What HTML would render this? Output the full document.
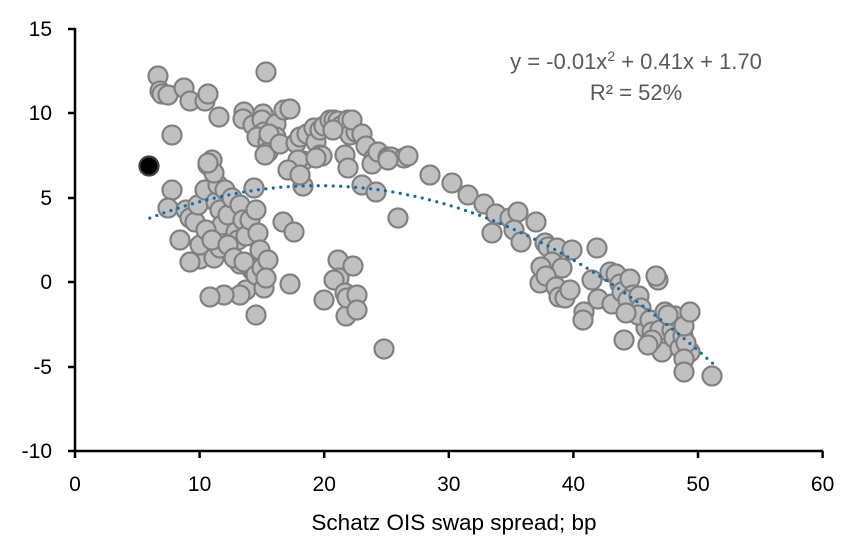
<!DOCTYPE html>
<html><head><meta charset="utf-8"><style>body{margin:0;background:#fff}svg{display:block}text{font-family:"Liberation Sans",sans-serif}</style></head>
<body>
<svg width="852" height="539" viewBox="0 0 852 539" xmlns="http://www.w3.org/2000/svg">
<g fill="#c0c0c0" stroke="#808080" stroke-width="2.2">
<circle cx="158" cy="76" r="9.5"/><circle cx="160" cy="91" r="9.5"/><circle cx="162" cy="94" r="9.5"/><circle cx="168" cy="95" r="9.5"/><circle cx="184" cy="88" r="9.5"/><circle cx="190" cy="101" r="9.5"/><circle cx="205" cy="101" r="9.5"/><circle cx="208" cy="94" r="9.5"/><circle cx="219" cy="117" r="9.5"/><circle cx="172" cy="135" r="9.5"/><circle cx="244" cy="112" r="9.5"/><circle cx="243" cy="119" r="9.5"/><circle cx="253" cy="125" r="9.5"/><circle cx="266" cy="72" r="9.5"/><circle cx="263" cy="114" r="9.5"/><circle cx="262" cy="120" r="9.5"/><circle cx="264" cy="132" r="9.5"/><circle cx="257" cy="137" r="9.5"/><circle cx="268" cy="142" r="9.5"/><circle cx="268" cy="152" r="9.5"/><circle cx="265" cy="155" r="9.5"/><circle cx="276" cy="124" r="9.5"/><circle cx="276" cy="137" r="9.5"/><circle cx="269" cy="134" r="9.5"/><circle cx="284" cy="110" r="9.5"/><circle cx="290" cy="109" r="9.5"/><circle cx="280" cy="144" r="9.5"/><circle cx="296" cy="167" r="9.5"/><circle cx="296" cy="143" r="9.5"/><circle cx="300" cy="137" r="9.5"/><circle cx="303" cy="161" r="9.5"/><circle cx="298" cy="160" r="9.5"/><circle cx="307" cy="134" r="9.5"/><circle cx="314" cy="128" r="9.5"/><circle cx="316" cy="142" r="9.5"/><circle cx="320" cy="130" r="9.5"/><circle cx="324" cy="126" r="9.5"/><circle cx="330" cy="120" r="9.5"/><circle cx="334" cy="120" r="9.5"/><circle cx="338" cy="121" r="9.5"/><circle cx="341" cy="126" r="9.5"/><circle cx="348" cy="120" r="9.5"/><circle cx="350" cy="135" r="9.5"/><circle cx="356" cy="132" r="9.5"/><circle cx="320" cy="155" r="9.5"/><circle cx="322" cy="156" r="9.5"/><circle cx="333" cy="130" r="9.5"/><circle cx="345" cy="155" r="9.5"/><circle cx="352" cy="120" r="9.5"/><circle cx="362" cy="134" r="9.5"/><circle cx="366" cy="146" r="9.5"/><circle cx="374" cy="158" r="9.5"/><circle cx="372" cy="164" r="9.5"/><circle cx="378" cy="152" r="9.5"/><circle cx="388" cy="157" r="9.5"/><circle cx="391" cy="157" r="9.5"/><circle cx="404" cy="158" r="9.5"/><circle cx="408" cy="156" r="9.5"/><circle cx="430" cy="175" r="9.5"/><circle cx="452" cy="183" r="9.5"/><circle cx="468" cy="195" r="9.5"/><circle cx="484" cy="204" r="9.5"/><circle cx="496" cy="214" r="9.5"/><circle cx="510" cy="218" r="9.5"/><circle cx="518" cy="212" r="9.5"/><circle cx="492" cy="233" r="9.5"/><circle cx="514" cy="230" r="9.5"/><circle cx="521" cy="242" r="9.5"/><circle cx="536" cy="222" r="9.5"/><circle cx="545" cy="243" r="9.5"/><circle cx="548" cy="247" r="9.5"/><circle cx="557" cy="248" r="9.5"/><circle cx="572" cy="250" r="9.5"/><circle cx="552" cy="262" r="9.5"/><circle cx="562" cy="268" r="9.5"/><circle cx="541" cy="267" r="9.5"/><circle cx="540" cy="283" r="9.5"/><circle cx="546" cy="276" r="9.5"/><circle cx="556" cy="287" r="9.5"/><circle cx="559" cy="297" r="9.5"/><circle cx="565" cy="298" r="9.5"/><circle cx="570" cy="290" r="9.5"/><circle cx="584" cy="312" r="9.5"/><circle cx="583" cy="320" r="9.5"/><circle cx="597" cy="248" r="9.5"/><circle cx="592" cy="280" r="9.5"/><circle cx="610" cy="272" r="9.5"/><circle cx="616" cy="274" r="9.5"/><circle cx="598" cy="299" r="9.5"/><circle cx="612" cy="304" r="9.5"/><circle cx="620" cy="284" r="9.5"/><circle cx="622" cy="292" r="9.5"/><circle cx="630" cy="279" r="9.5"/><circle cx="633" cy="295" r="9.5"/><circle cx="628" cy="300" r="9.5"/><circle cx="639" cy="296" r="9.5"/><circle cx="641" cy="308" r="9.5"/><circle cx="644" cy="318" r="9.5"/><circle cx="646" cy="328" r="9.5"/><circle cx="624" cy="340" r="9.5"/><circle cx="638" cy="315" r="9.5"/><circle cx="650" cy="320" r="9.5"/><circle cx="652" cy="332" r="9.5"/><circle cx="656" cy="340" r="9.5"/><circle cx="660" cy="330" r="9.5"/><circle cx="662" cy="352" r="9.5"/><circle cx="658" cy="280" r="9.5"/><circle cx="656" cy="276" r="9.5"/><circle cx="665" cy="312" r="9.5"/><circle cx="672" cy="330" r="9.5"/><circle cx="674" cy="338" r="9.5"/><circle cx="675" cy="316" r="9.5"/><circle cx="680" cy="348" r="9.5"/><circle cx="683" cy="336" r="9.5"/><circle cx="690" cy="352" r="9.5"/><circle cx="686" cy="343" r="9.5"/><circle cx="684" cy="359" r="9.5"/><circle cx="684" cy="372" r="9.5"/><circle cx="712" cy="376" r="9.5"/><circle cx="684" cy="326" r="9.5"/><circle cx="690" cy="312" r="9.5"/><circle cx="668" cy="315" r="9.5"/><circle cx="652" cy="340" r="9.5"/><circle cx="648" cy="345" r="9.5"/><circle cx="626" cy="313" r="9.5"/>
<circle cx="172" cy="190" r="9.5"/><circle cx="168" cy="208" r="9.5"/><circle cx="180" cy="240" r="9.5"/><circle cx="186" cy="210" r="9.5"/><circle cx="190" cy="218" r="9.5"/><circle cx="195" cy="222" r="9.5"/><circle cx="198" cy="205" r="9.5"/><circle cx="205" cy="190" r="9.5"/><circle cx="208" cy="165" r="9.5"/><circle cx="212" cy="160" r="9.5"/><circle cx="216" cy="202" r="9.5"/><circle cx="218" cy="185" r="9.5"/><circle cx="220" cy="210" r="9.5"/><circle cx="222" cy="225" r="9.5"/><circle cx="225" cy="190" r="9.5"/><circle cx="228" cy="215" r="9.5"/><circle cx="232" cy="198" r="9.5"/><circle cx="236" cy="232" r="9.5"/><circle cx="238" cy="240" r="9.5"/><circle cx="240" cy="205" r="9.5"/><circle cx="243" cy="220" r="9.5"/><circle cx="246" cy="236" r="9.5"/><circle cx="250" cy="220" r="9.5"/><circle cx="254" cy="188" r="9.5"/><circle cx="256" cy="210" r="9.5"/><circle cx="258" cy="233" r="9.5"/><circle cx="260" cy="250" r="9.5"/><circle cx="252" cy="270" r="9.5"/><circle cx="248" cy="265" r="9.5"/><circle cx="240" cy="264" r="9.5"/><circle cx="246" cy="290" r="9.5"/><circle cx="240" cy="295" r="9.5"/><circle cx="224" cy="295" r="9.5"/><circle cx="210" cy="297" r="9.5"/><circle cx="200" cy="259" r="9.5"/><circle cx="190" cy="262" r="9.5"/><circle cx="200" cy="245" r="9.5"/><circle cx="214" cy="258" r="9.5"/><circle cx="220" cy="248" r="9.5"/><circle cx="206" cy="230" r="9.5"/><circle cx="212" cy="240" r="9.5"/><circle cx="228" cy="245" r="9.5"/><circle cx="234" cy="258" r="9.5"/><circle cx="244" cy="262" r="9.5"/><circle cx="256" cy="275" r="9.5"/><circle cx="262" cy="268" r="9.5"/><circle cx="264" cy="288" r="9.5"/><circle cx="256" cy="315" r="9.5"/><circle cx="268" cy="260" r="9.5"/><circle cx="266" cy="278" r="9.5"/><circle cx="283" cy="222" r="9.5"/><circle cx="290" cy="284" r="9.5"/><circle cx="303" cy="186" r="9.5"/><circle cx="288" cy="170" r="9.5"/><circle cx="300" cy="175" r="9.5"/><circle cx="324" cy="300" r="9.5"/><circle cx="338" cy="260" r="9.5"/><circle cx="339" cy="278" r="9.5"/><circle cx="334" cy="280" r="9.5"/><circle cx="345" cy="293" r="9.5"/><circle cx="346" cy="316" r="9.5"/><circle cx="353" cy="266" r="9.5"/><circle cx="354" cy="296" r="9.5"/><circle cx="347" cy="298" r="9.5"/><circle cx="357" cy="295" r="9.5"/><circle cx="357" cy="310" r="9.5"/><circle cx="384" cy="349" r="9.5"/><circle cx="316" cy="158" r="9.5"/><circle cx="294" cy="232" r="9.5"/><circle cx="348" cy="168" r="9.5"/><circle cx="362" cy="185" r="9.5"/><circle cx="376" cy="192" r="9.5"/><circle cx="398" cy="218" r="9.5"/><circle cx="388" cy="160" r="9.5"/><circle cx="214" cy="173" r="9.5"/><circle cx="208" cy="163" r="9.5"/>
</g>
<circle cx="149" cy="166" r="9.5" fill="#000" stroke="#404040" stroke-width="2.2"/>
<path id="fit" fill="none" stroke="#1a6aa3" stroke-width="3.2" stroke-linecap="round" stroke-dasharray="0 7.5" d=""/>
<g stroke="#000" stroke-width="2.5" fill="none">
<line x1="75" y1="28" x2="75" y2="452"/>
<line x1="68" y1="451" x2="823" y2="451"/>
<line x1="68" y1="29" x2="75" y2="29"/><line x1="68" y1="113" x2="75" y2="113"/><line x1="68" y1="198" x2="75" y2="198"/><line x1="68" y1="282" x2="75" y2="282"/><line x1="68" y1="367" x2="75" y2="367"/>
<line x1="75" y1="451" x2="75" y2="458"/><line x1="199.6" y1="451" x2="199.6" y2="458"/><line x1="324.2" y1="451" x2="324.2" y2="458"/><line x1="448.8" y1="451" x2="448.8" y2="458"/><line x1="573.4" y1="451" x2="573.4" y2="458"/><line x1="698" y1="451" x2="698" y2="458"/><line x1="822.6" y1="451" x2="822.6" y2="458"/>
</g>
<g font-size="21" fill="#000" text-anchor="end">
<text x="52" y="36">15</text><text x="52" y="120">10</text><text x="52" y="205">5</text><text x="52" y="289">0</text><text x="52" y="374">-5</text><text x="52" y="458">-10</text>
</g>
<g font-size="21" fill="#000" text-anchor="middle">
<text x="75" y="491">0</text><text x="199.6" y="491">10</text><text x="324.2" y="491">20</text><text x="448.8" y="491">30</text><text x="573.4" y="491">40</text><text x="698" y="491">50</text><text x="822.6" y="491">60</text>
<text x="454" y="530" font-size="22.5">Schatz OIS swap spread; bp</text>
</g>
<g font-size="22" fill="#595959" text-anchor="middle">
<text x="636" y="69">y = -0.01x<tspan font-size="14" dy="-8">2</tspan><tspan dy="8"> + 0.41x + 1.70</tspan></text>
<text x="636" y="100">R² = 52%</text>
</g>
<script>
var d="";for(var x=6;x<=51.4;x+=0.2){var y=1.7+0.41*x-0.0105*x*x;var px=75+x*12.46,py=282-y*16.89;d+=(d?"L":"M")+px.toFixed(1)+" "+py.toFixed(1);}
document.getElementById("fit").setAttribute("d",d);
</script>
</svg>
</body></html>
